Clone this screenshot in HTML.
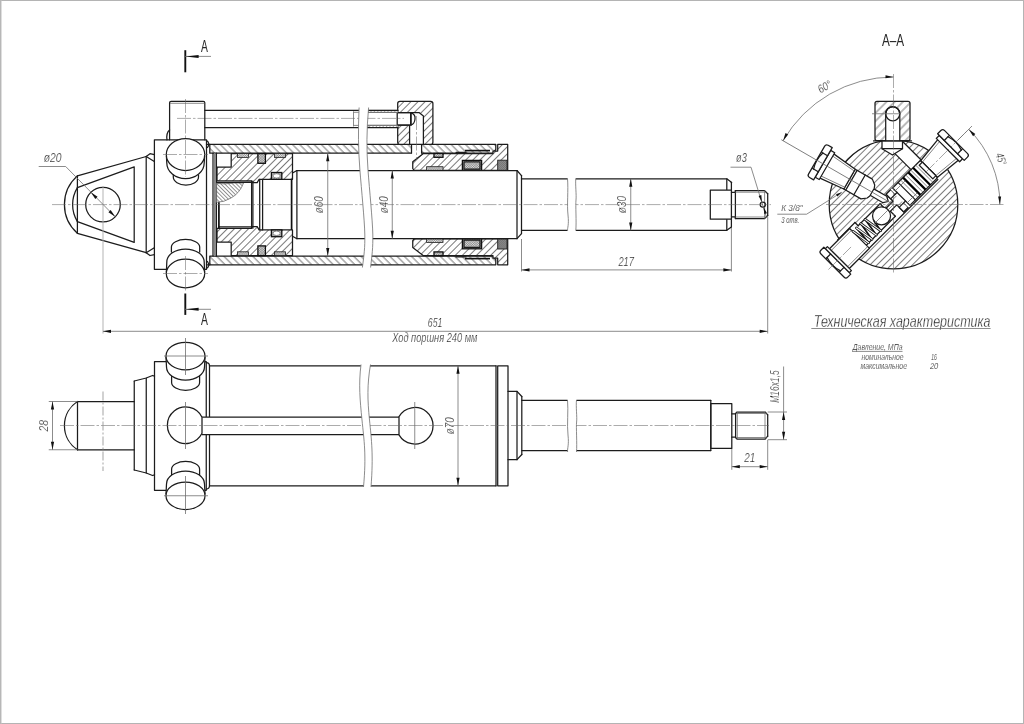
<!DOCTYPE html>
<html><head><meta charset="utf-8"><title>Hydraulic cylinder</title>
<style>
html,body{margin:0;padding:0;background:#fff;}
body{width:1024px;height:724px;overflow:hidden;}
svg{display:block;filter:grayscale(1);}
.k{stroke:#1c1c1c;stroke-width:1.25;fill:none;stroke-linejoin:round;stroke-linecap:round}
.kk{stroke:#111;stroke-width:1.7;fill:none}
.kkk{stroke:#111;stroke-width:1.9;fill:none}
.ring{stroke:#000;stroke-width:2.2;fill:none}
.sprb{stroke:#111;stroke-width:1.7;fill:none;stroke-linecap:round}
.spro{stroke:#151515;stroke-width:2.7;fill:none;stroke-linecap:round}
.spri{stroke:#fff;stroke-width:1.1;fill:none;stroke-linecap:round}
.t{stroke:#6e6e6e;stroke-width:0.8;fill:none}
.e{stroke:#aaa;stroke-width:0.9;fill:none}
.c{stroke:#666;stroke-width:0.55;fill:none;stroke-dasharray:14 2 2.5 2}
.c2{stroke:#999;stroke-width:0.9;fill:none;stroke-dasharray:9 2 2 2}
.ah{fill:#111;stroke:none}
.wf{fill:#fff}
.gf{fill:#888;stroke:none}
.hE{fill:url(#hE)} .hA{fill:url(#hA)} .hB{fill:url(#hB)} .hC{fill:url(#hC)} .hD{fill:url(#hD)}
.sl{fill:url(#sx);stroke:#222;stroke-width:0.8}
.sd{fill:url(#sd);stroke:#111;stroke-width:1.3}
.sx{fill:url(#sw);stroke:#222;stroke-width:0.9}
text{font-family:"Liberation Sans",sans-serif;}
.tx{font-style:italic;fill:#262626;stroke:#fff;stroke-width:0.02em}
.tu{fill:#262626}
</style></head><body>
<svg width="1024" height="724" viewBox="0 0 1024 724">
<defs>
<pattern id="hA" width="5.1" height="5.1" patternUnits="userSpaceOnUse" patternTransform="rotate(45)"><rect width="5.1" height="5.1" fill="#fff"/><line x1="0" y1="2.5" x2="5.1" y2="2.5" stroke="#585858" stroke-width="0.8"/></pattern>
<pattern id="hB" width="5" height="5" patternUnits="userSpaceOnUse" patternTransform="rotate(-45)"><rect width="5" height="5" fill="#fff"/><line x1="0" y1="2.5" x2="5" y2="2.5" stroke="#585858" stroke-width="0.8"/></pattern>
<pattern id="hE" width="2.75" height="2.75" patternUnits="userSpaceOnUse" patternTransform="rotate(45)"><rect width="2.75" height="2.75" fill="#fff"/><line x1="0" y1="1.4" x2="2.75" y2="1.4" stroke="#666" stroke-width="0.7"/></pattern>
<pattern id="hC" width="2.4" height="2.4" patternUnits="userSpaceOnUse" patternTransform="rotate(-45)"><rect width="2.4" height="2.4" fill="#fff"/><line x1="0" y1="0" x2="2.4" y2="0" stroke="#666" stroke-width="0.9"/></pattern>
<pattern id="hD" width="5.8" height="5.8" patternUnits="userSpaceOnUse" patternTransform="rotate(-45)"><rect width="5.8" height="5.8" fill="#fff"/><line x1="0" y1="2.9" x2="5.8" y2="2.9" stroke="#585858" stroke-width="0.8"/></pattern>
<pattern id="sx" width="1.6" height="1.6" patternUnits="userSpaceOnUse" patternTransform="rotate(45)"><rect width="1.6" height="1.6" fill="#e8e8e8"/><path d="M0,0H1.6M0,0V1.6" stroke="#555" stroke-width="0.6"/></pattern>
<pattern id="sw" width="1.4" height="1.4" patternUnits="userSpaceOnUse" patternTransform="rotate(45)"><rect width="1.4" height="1.4" fill="#c8c8c8"/><path d="M0,0H1.4M0,0V1.4" stroke="#333" stroke-width="0.75"/></pattern>
<pattern id="sd" width="1.7" height="1.7" patternUnits="userSpaceOnUse" patternTransform="rotate(45)"><rect width="1.7" height="1.7" fill="#e4e4e4"/><path d="M0,0H1.7M0,0V1.7" stroke="#444" stroke-width="0.6"/></pattern>
</defs>
<rect x="0" y="0" width="1024" height="724" fill="#fff"/>
<g id="top">
<path class="k hA" d="M209.8,144.4 L495.8,144.4 L495.8,149.5 L493,153.2 L209.8,153.2 Z" />
<path class="k hA" d="M209.8,264.8 L495.8,264.8 L495.8,259.7 L493,256.0 L209.8,256.0 Z" />
<path class="k hB" d="M231.2,153.6 L292.5,153.6 L292.5,179.3 L259.1,179.3 L257.2,182.6 L252.2,182.6 L251.6,180.9 L217,180.9 L217,167.1 L231.2,167.1 Z" />
<path class="k hB" d="M231.2,255.6 L292.5,255.6 L292.5,229.9 L259.1,229.9 L257.2,226.6 L252.2,226.6 L251.6,228.3 L217,228.3 L217,242.1 L231.2,242.1 Z" />
<path class="k hB" d="M412.75,161.7 L423.4,153.5 L493,153.5 L493,151 L497.7,151 L497.7,144.4 L507.7,144.4 L507.7,170.3 L414,170.3 L412.75,168.5 Z" />
<path class="k hB" d="M412.75,247.5 L423.4,255.7 L493,255.7 L493,258.2 L497.7,258.2 L497.7,264.8 L507.7,264.8 L507.7,238.9 L414,238.9 L412.75,240.7 Z" />
<line class="kk" x1="465" y1="150.6" x2="490" y2="150.6"/>
<line class="k" x1="456" y1="152.3" x2="466" y2="152.3"/>
<line class="kk" x1="465" y1="258.6" x2="490" y2="258.6"/>
<line class="k" x1="456" y1="256.9" x2="466" y2="256.9"/>
<rect class="sl" x="237.5" y="153.6" width="10.9" height="3.8" />
<rect class="sl" x="237.5" y="251.8" width="10.9" height="3.8" />
<rect class="sl" x="274.5" y="153.6" width="11.0" height="3.8" />
<rect class="sl" x="274.5" y="251.8" width="11.0" height="3.8" />
<rect class="sd" x="257.9" y="153.6" width="7.5" height="9.7" />
<rect class="sd" x="257.9" y="245.9" width="7.5" height="9.7" />
<rect class="sd" x="271.4" y="172.5" width="10.4" height="6.8" />
<rect class="sd" x="271.4" y="229.9" width="10.4" height="6.8" />
<rect class="sd" x="434" y="153.5" width="9" height="3.8" />
<rect class="sd" x="434" y="251.9" width="9" height="3.8" />
<rect class="sl" x="426.6" y="166.7" width="16.4" height="3.6" />
<rect class="sl" x="426.6" y="238.9" width="16.4" height="3.6" />
<rect class="sd" x="462.4" y="160.4" width="19.2" height="9.9" />
<rect class="sd" x="462.4" y="238.9" width="19.2" height="9.9" />
<rect class="sx" x="497.7" y="160.2" width="9.3" height="10.1" />
<rect class="sx" x="497.7" y="238.9" width="9.3" height="10.1" />
<rect class="k" x="464" y="161.8" width="16" height="7.3" />
<rect class="k" x="464" y="240.1" width="16" height="7.3" />
<ellipse class="t wf" cx="276.6" cy="175.9" rx="3.6" ry="2.2"/>
<ellipse class="t wf" cx="276.6" cy="233.3" rx="3.6" ry="2.2"/>
<rect class="wf" x="411.5" y="143.6" width="10.1" height="10.4" />
<line class="k" x1="411.5" y1="144.4" x2="411.5" y2="153.2"/>
<line class="k" x1="421.6" y1="144.4" x2="421.6" y2="153.2"/>
<rect class="k hB" x="397.7" y="101.3" width="35.2" height="43.1" rx="2.2"/>
<path class="k wf" d="M397.2,112.6 L419,112.6 L423.4,116 L423.4,144.4 L409.6,144.4 L409.6,125.2 L397.2,125.2 Z" />
<line class="kk" x1="410.9" y1="112.6" x2="410.9" y2="125.2"/>
<path class="k" d="M411,112.8 Q415.6,114 415,119 Q414.6,124 411,125" />
<line class="c" x1="416.5" y1="116" x2="416.5" y2="160"/>
<rect class="t hC" x="368" y="110.3" width="30" height="2.3" />
<rect class="t hC" x="368" y="125.2" width="30" height="2.3" />
<line class="k" x1="204.8" y1="110.3" x2="398" y2="110.3"/>
<line class="k" x1="204.8" y1="127.5" x2="398" y2="127.5"/>
<line class="k" x1="398" y1="112.6" x2="411" y2="112.6"/>
<line class="k" x1="398" y1="125.2" x2="411" y2="125.2"/>
<line class="t" x1="353.5" y1="111.3" x2="353.5" y2="126.5"/>
<line class="t" x1="353.5" y1="112.3" x2="398" y2="112.3"/>
<line class="t" x1="353.5" y1="125.4" x2="398" y2="125.4"/>
<line class="c" x1="177" y1="118.4" x2="404" y2="118.4"/>
<path class="k" d="M77.4,175.9 A38.2,38.2 0 0 0 77.4,233.3" />
<path class="k" d="M77.4,187.6 A32.5,32.5 0 0 0 77.4,221.6" />
<line class="k" x1="77.4" y1="175.9" x2="77.4" y2="233.3"/>
<path class="k" d="M77.4,175.9 L146.2,156.5" /><path class="k" d="M77.4,233.3 L146.2,252.7" />
<path class="k" d="M77.4,187.6 L134.2,166.8 L134.2,242.4 L77.4,221.6" />
<line class="k" x1="146.2" y1="156.5" x2="146.2" y2="252.7"/>
<path class="k" d="M146.2,156.5 L150,153.7 L154.3,154.6" /><path class="k" d="M146.2,252.7 L150,255.5 L154.3,254.6" />
<path class="k" d="M146.2,156.5 L154.3,161.5" /><path class="k" d="M146.2,252.7 L154.3,247.7" />
<circle class="k" cx="103" cy="204.6" r="17.3"/>
<path class="k" d="M169.6,139.8 L169.6,102.8 Q169.6,101.3 171.1,101.3 L203.3,101.3 Q204.8,101.3 204.8,102.8 L204.8,139.8" />
<line class="t" x1="170" y1="103.3" x2="204.4" y2="103.3"/>
<rect class="k" x="154.4" y="139.8" width="52.1" height="129.5" />
<path class="k" d="M169.6,130 Q166,133 167,139.8" />
<path class="k" d="M206.5,140.5 Q210.5,143 207.5,147.5" />
<path class="k" d="M206.5,268.5 Q210.5,266 207.5,261.5" />
<line class="k" x1="213" y1="153.2" x2="213" y2="256.0"/>
<rect class="gf" x="213.9" y="153.2" width="1.8" height="102.8" />
<line class="k" x1="216.4" y1="153.2" x2="216.4" y2="256.0"/>
<line class="k" x1="206.5" y1="144.4" x2="209.8" y2="144.4"/>
<line class="k" x1="206.5" y1="264.8" x2="209.8" y2="264.8"/>
<path class="k wf" d="M166.4,156 L166.8,163 A18.7,15.6 0 0 0 204.2,163 L204.6,156" />
<path class="k" d="M173.3,175 L173.3,177 A12.6,8 0 0 0 198.5,177 L198.5,175" />
<ellipse class="k wf" cx="185.5" cy="154.5" rx="19.2" ry="16"/>
<path class="k wf" d="M171.4,252 L171.4,247 A14.15,7.5 0 0 1 199.7,247 L199.7,252" />
<path class="k wf" d="M166.4,272 L166.8,262 A18.7,13 0 0 1 204.2,262 L204.6,272" />
<ellipse class="k wf" cx="185.5" cy="273.5" rx="19.2" ry="14.3"/>
<line class="c" x1="185.5" y1="99" x2="185.5" y2="177"/>
<line class="c" x1="185.5" y1="256" x2="185.5" y2="291.5"/>
<line class="c" x1="163" y1="154.5" x2="208" y2="154.5"/>
<line class="c" x1="163" y1="273.5" x2="208" y2="273.5"/>
<path class="t hE" d="M216.6,183 L243.5,183 Q240,193 231,198 Q224,202.3 216.6,202.3 Z" />
<path class="t" d="M217,183.4 Q226,184.6 231,183.2 Q236,181.6 251,181.6" />
<line class="k" x1="217" y1="182.3" x2="251.6" y2="182.3"/>
<line class="k" x1="219" y1="226.9" x2="251.6" y2="226.9"/>
<line class="k" x1="251.6" y1="181" x2="251.6" y2="228.2"/>
<line class="k" x1="252.9" y1="181" x2="252.9" y2="228.2"/>
<line class="k" x1="259.7" y1="179.3" x2="259.7" y2="229.9"/>
<line class="k" x1="262.6" y1="179.3" x2="262.6" y2="229.9"/>
<line class="kk" x1="291.6" y1="179.3" x2="291.6" y2="229.9"/>
<line class="kk" x1="218.9" y1="202.3" x2="218.9" y2="228.2"/>
<path class="k" d="M292.5,173 L296.9,170.5 L517,170.5 L521.5,175.6" /><path class="k" d="M292.5,236.2 L296.9,238.7 L517,238.7 L521.5,233.6" />
<line class="k" x1="296.9" y1="170.5" x2="296.9" y2="238.7"/>
<line class="k" x1="521.5" y1="175.6" x2="521.5" y2="233.6"/>
<line class="k" x1="517" y1="170.5" x2="517" y2="238.7"/>
<path class="k" d="M521.5,178.85 L726.8,178.85 L731.4,182.3" /><path class="k" d="M521.5,230.35 L726.8,230.35 L731.4,226.9" />
<line class="k" x1="726.8" y1="178.85" x2="726.8" y2="230.35"/>
<line class="k" x1="731.4" y1="182.3" x2="731.4" y2="226.9"/>
<rect class="k wf" x="710.3" y="190" width="21.1" height="29.2" />
<path class="k" d="M731.5,192.4 L735.4,192.4 L735.4,190.6 L764.6,190.6 L767.7,193.7" /><path class="k" d="M731.5,216.8 L735.4,216.8 L735.4,218.6 L764.6,218.6 L767.7,215.5" />
<line class="k" x1="735.4" y1="190.6" x2="735.4" y2="218.6"/>
<line class="k" x1="767.7" y1="193.7" x2="767.7" y2="215.5"/>
<line class="t" x1="764.6" y1="190.6" x2="764.6" y2="218.6"/>
<line class="t" x1="735.4" y1="192.2" x2="766.3" y2="192.2"/>
<line class="t" x1="735.4" y1="217.0" x2="766.3" y2="217.0"/>
<circle class="k" cx="762.8" cy="204.6" r="2.6"/>
<line class="c" x1="52" y1="204.6" x2="771" y2="204.6"/>
<path class="wf" d="M359.1,106 C358,130 358.3,150 359.9,170 S 364.5,220 364.8,234 S 364,255 362.4,267.5 L370.6,267.5 C372,255 372.9,245 372.8,234 S 369.5,190 368,170 S 366.5,130 368.6,106 Z" />
<path class="t" d="M359.1,107.5 C358,130 358.3,150 359.9,170 S 364.5,220 364.8,234 S 364,255 362.4,267.5" />
<path class="t" d="M368.6,107.5 C366.5,130 366.5,150 368,170 S 372.5,220 372.8,234 S 372,255 370.6,267.5" />
<path class="wf" d="M567.5,177 C568.5,190 566.8,205 568,215 S 567.2,228 567.6,232 L575.8,232 C576.6,222 575,210 576,200 S 575.2,185 575.8,177 Z" />
<path class="t" d="M567.5,178.5 C568.5,190 566.8,205 568,215 S 567.2,228 567.6,230.6" />
<path class="t" d="M575.8,178.5 C575.2,185 576.6,195 576,200 S 576.6,222 575.8,230.6" />
<line class="t" x1="327.75" y1="153.2" x2="327.75" y2="256.0"/>
<path class="ah" transform="translate(327.75,153.2) rotate(-90)" d="M0,0 L-8,-1.6 L-8,1.6 Z"/>
<path class="ah" transform="translate(327.75,256.0) rotate(90)" d="M0,0 L-8,-1.6 L-8,1.6 Z"/>
<line class="t" x1="392.25" y1="170.5" x2="392.25" y2="238.7"/>
<path class="ah" transform="translate(392.25,170.5) rotate(-90)" d="M0,0 L-8,-1.6 L-8,1.6 Z"/>
<path class="ah" transform="translate(392.25,238.7) rotate(90)" d="M0,0 L-8,-1.6 L-8,1.6 Z"/>
<line class="t" x1="630.75" y1="178.75" x2="630.75" y2="230.45"/>
<path class="ah" transform="translate(630.75,178.75) rotate(-90)" d="M0,0 L-8,-1.6 L-8,1.6 Z"/>
<path class="ah" transform="translate(630.75,230.45) rotate(90)" d="M0,0 L-8,-1.6 L-8,1.6 Z"/>
<text class="tx" x="323.3" y="213.2" font-size="12" textLength="17" lengthAdjust="spacingAndGlyphs" transform="rotate(-90 323.3 213.2)" text-anchor="start">ø60</text>
<text class="tx" x="388" y="213.2" font-size="12" textLength="17" lengthAdjust="spacingAndGlyphs" transform="rotate(-90 388 213.2)" text-anchor="start">ø40</text>
<text class="tx" x="626.1" y="213.3" font-size="12" textLength="17.4" lengthAdjust="spacingAndGlyphs" transform="rotate(-90 626.1 213.3)" text-anchor="start">ø30</text>
<line class="t" x1="521.5" y1="239" x2="521.5" y2="271.5"/>
<line class="t" x1="731.4" y1="228" x2="731.4" y2="271.5"/>
<line class="t" x1="521.5" y1="269.9" x2="731.4" y2="269.9"/>
<path class="ah" transform="translate(521.5,269.9) rotate(180)" d="M0,0 L-8,-1.6 L-8,1.6 Z"/>
<path class="ah" transform="translate(731.4,269.9) rotate(0)" d="M0,0 L-8,-1.6 L-8,1.6 Z"/>
<text class="tx" x="618.4" y="265.8" font-size="12" textLength="15.6" lengthAdjust="spacingAndGlyphs" text-anchor="start">217</text>
<line class="e" x1="103" y1="186" x2="103" y2="333.5"/>
<line class="t" x1="767.7" y1="216.5" x2="767.7" y2="333.5"/>
<line class="t" x1="103" y1="331.3" x2="767.7" y2="331.3"/>
<path class="ah" transform="translate(103,331.3) rotate(180)" d="M0,0 L-8,-1.6 L-8,1.6 Z"/>
<path class="ah" transform="translate(767.7,331.3) rotate(0)" d="M0,0 L-8,-1.6 L-8,1.6 Z"/>
<text class="tx" x="427.8" y="326.6" font-size="12" textLength="14.5" lengthAdjust="spacingAndGlyphs" text-anchor="start">651</text>
<text class="tx" x="392.3" y="342.3" font-size="12" textLength="85" lengthAdjust="spacingAndGlyphs" text-anchor="start">Ход поршня 240 мм</text>
<path class="t" d="M38.7,166.5 L65.7,166.5 L115.2,216.8" />
<path class="ah" transform="translate(90.8,192.3) rotate(225)" d="M0,0 L-8,-1.6 L-8,1.6 Z"/>
<path class="ah" transform="translate(115.2,216.8) rotate(45)" d="M0,0 L-8,-1.6 L-8,1.6 Z"/>
<text class="tx" x="43.7" y="162" font-size="12.3" textLength="17.8" lengthAdjust="spacingAndGlyphs" text-anchor="start">ø20</text>
<path class="t" d="M730.5,167.2 L751,167.2 L766.2,216.5" />
<path class="ah" transform="translate(762,202.2) rotate(73)" d="M0,0 L-7,-1.4 L-7,1.4 Z"/>
<path class="ah" transform="translate(763.6,206.9) rotate(253)" d="M0,0 L-7,-1.4 L-7,1.4 Z"/>
<text class="tx" x="736" y="162.4" font-size="12" textLength="10.8" lengthAdjust="spacingAndGlyphs" text-anchor="start">ø3</text>
<line class="kkk" x1="185.3" y1="50.2" x2="185.3" y2="72.3"/>
<line class="t" x1="185" y1="56.4" x2="211" y2="56.4"/>
<path class="ah" transform="translate(185.6,56.4) rotate(180)" d="M0,0 L-13,-1.5 L-13,1.5 Z"/>
<text class="tu" x="201.1" y="51.9" font-size="16.2" textLength="6.9" lengthAdjust="spacingAndGlyphs" text-anchor="start">A</text>
<line class="kkk" x1="185.3" y1="293.5" x2="185.3" y2="314.9"/>
<line class="t" x1="185" y1="309.3" x2="211" y2="309.3"/>
<path class="ah" transform="translate(185.6,309.3) rotate(180)" d="M0,0 L-13,-1.5 L-13,1.5 Z"/>
<text class="tu" x="201.1" y="324.7" font-size="16.2" textLength="6.9" lengthAdjust="spacingAndGlyphs" text-anchor="start">A</text>
</g>
<g id="bot">
<path class="k" d="M77.5,401.5 A28.8,28.8 0 0 0 77.5,449.75" />
<line class="k" x1="77.5" y1="401.5" x2="77.5" y2="449.75"/>
<line class="k" x1="77.5" y1="401.5" x2="134.25" y2="401.5"/>
<line class="k" x1="77.5" y1="449.75" x2="134.25" y2="449.75"/>
<path class="k" d="M134.25,381 L146.25,378 L152.5,375.5 L154.5,376.2" /><path class="k" d="M134.25,470.0 L146.25,473.0 L152.5,475.5 L154.5,474.8" />
<line class="k" x1="134.25" y1="381" x2="134.25" y2="470.0"/>
<line class="k" x1="146.25" y1="378" x2="146.25" y2="473.0"/>
<rect class="k" x="154.5" y="361.5" width="51.75" height="128.8" />
<path class="k" d="M206.25,362.5 Q209.5,362.5 209.5,366 L209.5,485.5 Q209.5,489 206.25,489" />
<line class="k" x1="209.5" y1="365.75" x2="496" y2="365.75"/>
<line class="k" x1="209.5" y1="485.75" x2="496" y2="485.75"/>
<line class="k" x1="496" y1="365.75" x2="496" y2="485.75"/>
<rect class="k" x="497.7" y="365.75" width="10.3" height="120" />
<path class="k" d="M508,391.3 L517,391.3 L521.8,396.5" /><path class="k" d="M508,459.7 L517,459.7 L521.8,454.5" />
<line class="k" x1="517" y1="391.3" x2="517" y2="459.7"/>
<line class="k" x1="521.8" y1="396.5" x2="521.8" y2="454.5"/>
<path class="k" d="M521.8,400.4 L710.75,400.4" /><path class="k" d="M521.8,450.6 L710.75,450.6" />
<rect class="k" x="710.8" y="403.5" width="21" height="44.9" />
<line class="k" x1="710.8" y1="400.4" x2="710.8" y2="450.6"/>
<path class="k" d="M731.8,413.8 L735.6,413.8 L735.6,413.5 L737,412 L765.2,412 L767.7,414.8" /><path class="k" d="M731.8,437.2 L735.6,437.2 L735.6,437.5 L737,439.0 L765.2,439.0 L767.7,436.2" />
<line class="k" x1="735.6" y1="413.5" x2="735.6" y2="437.5"/>
<line class="k" x1="767.7" y1="414.8" x2="767.7" y2="436.2"/>
<line class="t" x1="765" y1="412" x2="765" y2="439.0"/>
<line class="t" x1="737.3" y1="412" x2="737.3" y2="439.0"/>
<line class="t" x1="737" y1="413.5" x2="766.5" y2="413.5"/>
<line class="t" x1="737" y1="437.5" x2="766.5" y2="437.5"/>
<rect class="wf" x="200" y="417" width="199" height="17.5" />
<line class="k" x1="202" y1="417" x2="399" y2="417"/>
<line class="k" x1="202" y1="434.5" x2="399" y2="434.5"/>
<path class="k wf" d="M202,417.2 A18.25,18.25 0 1 0 202,433.3 Z" />
<path class="k wf" d="M399,416.6 A18.25,18.25 0 1 1 399,434.9 Z" />
<path class="k wf" d="M171.6,375 L171.6,382.5 A14,7.8 0 0 0 199.6,382.5 L199.6,375" />
<path class="k wf" d="M166,357 L166.5,367 A19,13 0 0 0 204.5,367 L205,357" />
<ellipse class="k wf" cx="185.5" cy="356" rx="19.5" ry="13.75"/>
<path class="k wf" d="M171.6,476 L171.6,469.3 A14,7.8 0 0 1 199.6,469.3 L199.6,476" />
<path class="k wf" d="M166,494 L166.5,484 A19,13 0 0 1 204.5,484 L205,494" />
<ellipse class="k wf" cx="185.5" cy="495.75" rx="19.5" ry="13.75"/>
<line class="t" x1="185.5" y1="338" x2="185.5" y2="375"/>
<line class="t" x1="185.5" y1="476" x2="185.5" y2="514"/>
<line class="t" x1="164" y1="356" x2="208" y2="356"/>
<line class="t" x1="164" y1="495.75" x2="208" y2="495.75"/>
<line class="t" x1="185.5" y1="402" x2="185.5" y2="449"/>
<line class="t" x1="414.75" y1="402" x2="414.75" y2="449"/>
<line class="c" x1="60" y1="425.5" x2="769" y2="425.5"/>
<path class="wf" d="M361,363 C358.5,385 360,400 362,420 S 366.5,455 363.5,488 L371,488 C373.5,455 371.5,440 369.5,420 S 367,385 370.5,363 Z" />
<path class="t" d="M361,364.5 C358.5,385 360,400 362,420 S 366.5,455 363.5,487" />
<path class="t" d="M370.5,364.5 C367,385 367.5,400 369.5,420 S 373.5,455 371,487" />
<path class="wf" d="M567.5,398 C568.5,410 566.8,425 568,435 S 567.2,448 567.6,454 L576.5,454 C577.2,444 575.6,432 576.6,422 S 575.8,407 576.5,398 Z" />
<path class="t" d="M567.5,400 C568.5,410 566.8,425 568,435 S 567.2,448 567.6,452" />
<path class="t" d="M576.5,400 C575.8,407 577.2,417 576.6,422 S 577.2,444 576.5,452" />
<line class="c2" x1="103" y1="391.5" x2="103" y2="471"/>
<line class="t" x1="458" y1="365.75" x2="458" y2="485.75"/>
<path class="ah" transform="translate(458,365.75) rotate(-90)" d="M0,0 L-8,-1.6 L-8,1.6 Z"/>
<path class="ah" transform="translate(458,485.75) rotate(90)" d="M0,0 L-8,-1.6 L-8,1.6 Z"/>
<text class="tx" x="454.3" y="434.2" font-size="12" textLength="17" lengthAdjust="spacingAndGlyphs" transform="rotate(-90 454.3 434.2)" text-anchor="start">ø70</text>
<line class="t" x1="48.75" y1="401.5" x2="77.5" y2="401.5"/>
<line class="t" x1="48.75" y1="449.75" x2="77.5" y2="449.75"/>
<line class="t" x1="52.5" y1="401.5" x2="52.5" y2="449.75"/>
<path class="ah" transform="translate(52.5,401.5) rotate(-90)" d="M0,0 L-8,-1.6 L-8,1.6 Z"/>
<path class="ah" transform="translate(52.5,449.75) rotate(90)" d="M0,0 L-8,-1.6 L-8,1.6 Z"/>
<text class="tx" x="48" y="431.5" font-size="12" textLength="11.5" lengthAdjust="spacingAndGlyphs" transform="rotate(-90 48 431.5)" text-anchor="start">28</text>
<line class="t" x1="731.8" y1="449" x2="731.8" y2="469.8"/>
<line class="t" x1="767.7" y1="440" x2="767.7" y2="469.8"/>
<line class="t" x1="731.8" y1="466.7" x2="767.7" y2="466.7"/>
<path class="ah" transform="translate(731.8,466.7) rotate(180)" d="M0,0 L-8,-1.6 L-8,1.6 Z"/>
<path class="ah" transform="translate(767.7,466.7) rotate(0)" d="M0,0 L-8,-1.6 L-8,1.6 Z"/>
<text class="tx" x="744.2" y="461.9" font-size="12" textLength="11" lengthAdjust="spacingAndGlyphs" text-anchor="start">21</text>
<line class="t" x1="767.7" y1="412" x2="787" y2="412"/>
<line class="t" x1="767.7" y1="439.7" x2="787" y2="439.7"/>
<line class="t" x1="783.6" y1="366.5" x2="783.6" y2="439.7"/>
<path class="ah" transform="translate(783.6,412) rotate(-90)" d="M0,0 L-8,-1.6 L-8,1.6 Z"/>
<path class="ah" transform="translate(783.6,439.7) rotate(90)" d="M0,0 L-8,-1.6 L-8,1.6 Z"/>
<text class="tx" x="779.5" y="402.7" font-size="12" textLength="32.4" lengthAdjust="spacingAndGlyphs" transform="rotate(-90 779.5 402.7)" text-anchor="start">М16х1,5</text>
</g>
<g id="sec">
<circle class="k hB" cx="893.5" cy="204.5" r="64.3"/>
<g transform="translate(893.5,204.5) rotate(-45)">
<path class="wf" d="M-66,-14.5 L-40,-14.5 L-40,-10 L-9,-10 L-9,-2.6 L2,-2.6 L2,-12.6 L51,-12.6 L51,-12 L70,-12 L70,13.7 L-66,13.7 Z" />
<rect class="wf" x="37" y="-40" width="14" height="28" />
<line class="k" x1="37" y1="-36" x2="37" y2="-12.6"/>
<line class="k" x1="51" y1="-42" x2="51" y2="-12.6"/>
<line class="k" x1="-64.5" y1="-14.5" x2="-40" y2="-14.5"/>
<line class="k" x1="-40" y1="-14.5" x2="-40" y2="-10"/>
<line class="k" x1="-40" y1="-10" x2="-9" y2="-10"/>
<path class="k" d="M-9,-10 L-9,-2.6 L2,-2.6 L2,-12.6 L37,-12.6" />
<line class="k" x1="-64.5" y1="13.7" x2="49" y2="13.7"/>
<line class="k" x1="-48" y1="9.6" x2="-7" y2="9.6"/>
<path class="k" d="M-7,9.6 L-7,2.6 L2,2.6 L2,12.6 L8.5,12.6" />
<path class="k wf" d="M-76.5,-14 L-48,-14 L-48,14 L-76.5,14 Z" />
<line class="t" x1="-76.5" y1="-11.5" x2="-48" y2="-11.5"/>
<line class="t" x1="-76.5" y1="11.5" x2="-48" y2="11.5"/>
<rect class="k wf" x="-79.5" y="-17" width="3" height="34" />
<path class="k wf" d="M-79.5,-19 L-83.7,-19 Q-86.3,-19 -86.3,-16.6 L-86.3,16.6 Q-86.3,19 -83.7,19 L-79.5,19 Z" /><line class="k" x1="-79.5" y1="-9.5" x2="-85.5" y2="-9.5"/><line class="k" x1="-79.5" y1="9.5" x2="-85.5" y2="9.5"/><path class="k" d="M-84.39999999999999,-9.5 Q-87.5,0 -84.39999999999999,9.5" />
<line class="sprb" x1="-33.7" y1="9.2" x2="-30.6" y2="-9.4"/>
<line class="sprb" x1="-39.8" y1="9.2" x2="-36.7" y2="-9.4"/>
<line class="sprb" x1="-44.6" y1="9.2" x2="-42.8" y2="-9.4"/>
<line class="sprb" x1="-27.6" y1="9.2" x2="-25.400000000000002" y2="-2"/>
<line class="spro" x1="-30.6" y1="-9.6" x2="-27.6" y2="9.4"/>
<line class="spri" x1="-30.6" y1="-9.6" x2="-27.6" y2="9.4"/>
<line class="spro" x1="-36.7" y1="-9.6" x2="-33.7" y2="9.4"/>
<line class="spri" x1="-36.7" y1="-9.6" x2="-33.7" y2="9.4"/>
<line class="spro" x1="-42.8" y1="-9.6" x2="-39.8" y2="9.4"/>
<line class="spri" x1="-42.8" y1="-9.6" x2="-39.8" y2="9.4"/>
<line class="spro" x1="-47.6" y1="-9.6" x2="-44.6" y2="9.4"/>
<line class="spri" x1="-47.6" y1="-9.6" x2="-44.6" y2="9.4"/>
<circle class="k wf" cx="-16.5" cy="-0.4" r="9"/>
<rect class="k wf" x="2" y="-12.4" width="6.5" height="6.4" />
<rect class="k wf" x="2" y="6" width="6.5" height="6.4" />
<line class="t" x1="8.5" y1="-4" x2="2" y2="-4"/>
<line class="t" x1="8.5" y1="4" x2="2" y2="4"/>
<rect class="wf" x="8.5" y="-12.6" width="41.5" height="25.2" />
<rect class="k wf" x="11" y="-12.2" width="39" height="24.4" />
<line class="k" x1="18.8" y1="-12.2" x2="18.8" y2="12.2"/>
<line class="ring" x1="25.8" y1="-12.2" x2="25.8" y2="12.2"/>
<line class="ring" x1="33.2" y1="-12.2" x2="33.2" y2="12.2"/>
<line class="ring" x1="39.8" y1="-12.2" x2="39.8" y2="12.2"/>
<line class="t" x1="22.3" y1="-12.2" x2="22.3" y2="12.2"/>
<line class="t" x1="29.5" y1="-12.2" x2="29.5" y2="12.2"/>
<line class="t" x1="36.5" y1="-12.2" x2="36.5" y2="12.2"/>
<line class="t" x1="43.5" y1="-12.2" x2="43.5" y2="12.2"/>
<line class="t" x1="11" y1="-8.5" x2="25" y2="-8.5"/>
<line class="t" x1="11" y1="8.5" x2="25" y2="8.5"/>
<line class="k" x1="8.5" y1="-6" x2="11" y2="-6"/>
<line class="k" x1="8.5" y1="6" x2="11" y2="6"/>
<path class="k wf" d="M50.4,-11.8 L77.5,-14.6 L77.5,14.6 L50.4,11.8 Z" />
<path class="k wf" d="M46,-9.6 L50.4,-9.6 L50.4,9.6 L46,9.6 Z" />
<line class="t" x1="50.4" y1="-9.5" x2="77.5" y2="-12"/>
<line class="t" x1="50.4" y1="9.5" x2="77.5" y2="12"/>
<rect class="k wf" x="77" y="-16.5" width="4.2" height="33" />
<path class="k wf" d="M81.2,-18.8 L85.80000000000001,-18.8 Q88.4,-18.8 88.4,-16.400000000000002 L88.4,16.400000000000002 Q88.4,18.8 85.80000000000001,18.8 L81.2,18.8 Z" /><line class="k" x1="81.2" y1="-9.4" x2="87.60000000000001" y2="-9.4"/><line class="k" x1="81.2" y1="9.4" x2="87.60000000000001" y2="9.4"/><path class="k" d="M86.5,-9.4 Q89.60000000000001,0 86.5,9.4" />
<line class="c" x1="-92" y1="0" x2="-60" y2="0"/>
<line class="c" x1="44" y1="0" x2="104" y2="0"/>
</g>
<path class="k wf" d="M882,140.6 L902.5,140.6 L902.5,148.7 L892.5,155 L882,148.7 Z" />
<line class="k" x1="882" y1="148.7" x2="902.5" y2="148.7"/>
<rect class="k hD" x="875" y="101.25" width="35" height="39.4" rx="2"/>
<path class="k wf" d="M885.7,140.6 L885.7,113.75 A7,7 0 0 1 899.8,113.75 L899.8,140.6" />
<circle class="k" cx="892.75" cy="113.75" r="7"/>
<line class="k" x1="873.5" y1="140.9" x2="911.5" y2="140.9"/>
<line class="t" x1="872" y1="113.75" x2="900" y2="113.75"/>
<g transform="translate(893.5,204.5) rotate(210)">
<path class="k wf" d="M6,0 L10,-3.7 L25.4,-3.7 L25.4,3.7 L10,3.7 Z" />
<path class="k wf" d="M24.8,-4.5 L26,-7.5 L31,-11.4 L50.8,-11.4 L50.8,11.4 L31,11.4 L26,7.5 L24.8,4.5 Z" />
<line class="k" x1="39.2" y1="-11.4" x2="39.2" y2="11.4"/>
<line class="k" x1="48.6" y1="-11.4" x2="48.6" y2="11.4"/>
<path class="k wf" d="M50.8,-11.4 L77.5,-14 L77.5,14 L50.8,11.4 Z" />
<line class="t" x1="50.8" y1="-9.4" x2="77.5" y2="-11.6"/>
<line class="t" x1="50.8" y1="9.4" x2="77.5" y2="11.6"/>
<rect class="k wf" x="76.8" y="-15.5" width="4.7" height="31" />
<path class="k wf" d="M81.5,-18.6 L86.2,-18.6 Q88.8,-18.6 88.8,-16.200000000000003 L88.8,16.200000000000003 Q88.8,18.6 86.2,18.6 L81.5,18.6 Z" /><line class="k" x1="81.5" y1="-9.3" x2="88.0" y2="-9.3"/><line class="k" x1="81.5" y1="9.3" x2="88.0" y2="9.3"/><path class="k" d="M86.89999999999999,-9.3 Q90.0,0 86.89999999999999,9.3" />
<line class="t" x1="0" y1="0" x2="129.5" y2="0"/>
</g>
<line class="c" x1="893.5" y1="74" x2="893.5" y2="274"/>
<line class="c" x1="826" y1="204.5" x2="1003.5" y2="204.5"/>
<line class="t" x1="871.5" y1="226.5" x2="893" y2="205"/>
<path class="t" d="M893.5,77.0 A127.5,127.5 0 0 0 783.08,140.75" />
<path class="ah" transform="translate(893.5,77.0) rotate(2)" d="M0,0 L-8,-1.5 L-8,1.5 Z"/>
<path class="ah" transform="translate(783.08,140.75) rotate(118)" d="M0,0 L-8,-1.5 L-8,1.5 Z"/>
<text class="tx" x="820.6" y="93.6" font-size="11.5" textLength="14" lengthAdjust="spacingAndGlyphs" transform="rotate(-30 820.6 93.6)" text-anchor="start">60°</text>
<path class="t" d="M968.74,129.26 A106.4,106.4 0 0 1 999.9,204.5" />
<path class="ah" transform="translate(968.74,129.26) rotate(-133)" d="M0,0 L-8,-1.5 L-8,1.5 Z"/>
<path class="ah" transform="translate(999.9,204.5) rotate(88)" d="M0,0 L-8,-1.5 L-8,1.5 Z"/>
<line class="t" x1="958" y1="140" x2="972" y2="126"/>
<text class="tx" x="995.6" y="154.6" font-size="11.5" textLength="12" lengthAdjust="spacingAndGlyphs" transform="rotate(72 995.6 154.6)" text-anchor="start">45°</text>
<path class="t" d="M777.3,214.2 L806.6,214.2 L841.8,192.2" />
<path class="ah" transform="translate(841.8,192.2) rotate(-32)" d="M0,0 L-6,-1.3 L-6,1.3 Z"/>
<text class="tx" x="781.2" y="210.8" font-size="8.4" textLength="21.5" lengthAdjust="spacingAndGlyphs" text-anchor="start">К 3/8"</text>
<text class="tx" x="781.2" y="222.5" font-size="8.4" textLength="18" lengthAdjust="spacingAndGlyphs" text-anchor="start">3 отв.</text>
<text class="tu" x="881.9" y="45.5" font-size="17" textLength="22.2" lengthAdjust="spacingAndGlyphs" text-anchor="start">A–A</text>
</g>
<g id="tb">
<text class="tx" x="813.7" y="326.5" font-size="17" textLength="176.7" lengthAdjust="spacingAndGlyphs" text-anchor="start">Техническая характеристика</text>
<line class="t" x1="811.3" y1="328.5" x2="990.6" y2="328.5"/>
<text class="tx" x="852.7" y="349.8" font-size="9" textLength="49.8" lengthAdjust="spacingAndGlyphs" text-anchor="start">Давление, МПа</text>
<line class="t" x1="852.5" y1="351.4" x2="902.5" y2="351.4"/>
<text class="tx" x="861.5" y="359.7" font-size="8.6" textLength="42" lengthAdjust="spacingAndGlyphs" text-anchor="start">номинальное</text>
<text class="tx" x="931.2" y="359.7" font-size="9" textLength="5.6" lengthAdjust="spacingAndGlyphs" text-anchor="start">16</text>
<text class="tx" x="860.5" y="369.4" font-size="8.6" textLength="46.5" lengthAdjust="spacingAndGlyphs" text-anchor="start">максимальное</text>
<text class="tx" x="929.9" y="369.4" font-size="9" textLength="8.4" lengthAdjust="spacingAndGlyphs" text-anchor="start">20</text>
</g>
<rect x="0.5" y="0.5" width="1023" height="723" fill="none" stroke="#b4b4b4" stroke-width="1"/><line x1="1.2" y1="0" x2="1.2" y2="724" stroke="#c4c4c4" stroke-width="0.8"/>
</svg>
</body></html>
